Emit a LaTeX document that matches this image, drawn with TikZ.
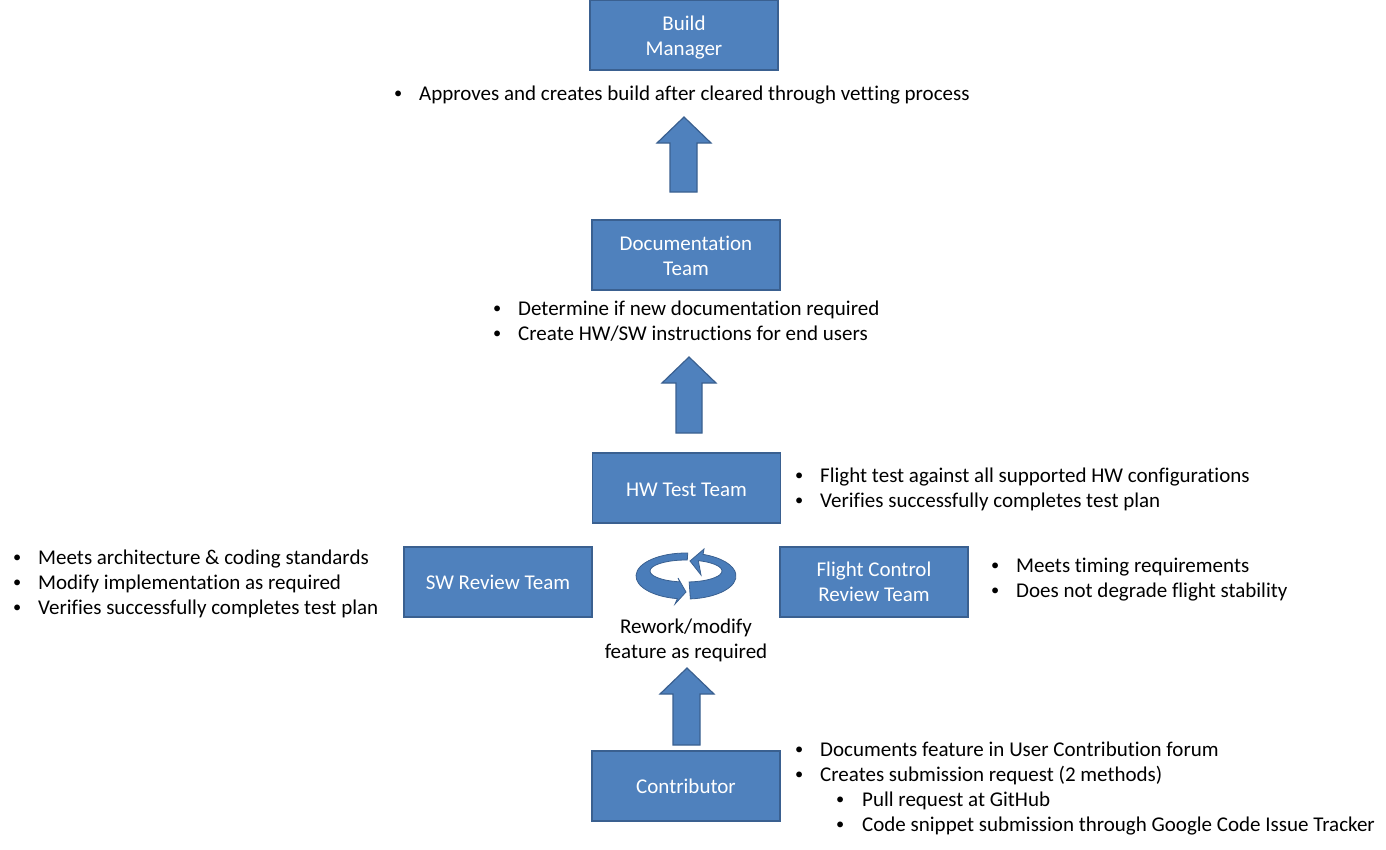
\documentclass[tikz,border=0pt]{standalone}
\usepackage{fontspec}
\setmainfont{Carlito}[Ligatures=NoCommon]
\definecolor{boxfill}{HTML}{4F81BD}
\definecolor{boxline}{HTML}{3A6090}
\definecolor{ringfill}{HTML}{4A7DBA}
\begin{document}
\begin{tikzpicture}[x=1pt,y=-1pt,
  team/.style={draw=boxline,line width=1.2pt,fill=boxfill,text=white,
    minimum width=188pt,minimum height=70pt,align=center,inner sep=0pt,
    font=\fontsize{21}{25}\selectfont},
  note/.style={anchor=base west,inner sep=0pt,font=\fontsize{21}{25}\selectfont},
  blockarrow/.style={draw=boxline,line width=1.2pt,fill=boxfill},
  ring/.style={draw=boxline,line width=0.8pt,fill=ringfill}]
\useasboundingbox (0,0) rectangle (1386,849);
\newcommand{\dotmark}{\raisebox{1.6pt}{\scalebox{0.78}{\textbullet}}}
\newcommand{\bl}{\makebox[26pt][l]{\hspace*{1pt}\dotmark}}
\newcommand{\sbl}{\hspace*{41pt}\makebox[27pt][l]{\hspace*{1pt}\dotmark}}

% team boxes
\node[team] (bm) at (684,35) {\rule{0pt}{19pt}Build\\Manager};
\node[team] (doc) at (686,255) {\rule{0pt}{16pt}Documentation\\Team};
\node[team] (hw) at (686.5,488) {\rule{0pt}{17.5pt}HW Test Team};
\node[team] (sw) at (498,582) {SW Review Team};
\node[team] (fc) at (874,582) {Flight Control\\Review Team};
\node[team] (con) at (686,786) {Contributor};

% notes beside the boxes
\node[note] (bmnote) at (393,100) {\bl Approves and creates build after cleared through vetting process};
\node[note] (docnote) at (492,315) {\begin{tabular}[t]{@{}l@{}}
\bl Determine if new documentation required\\
\bl Create HW/SW instructions for end users\end{tabular}};
\node[note] (hwnote) at (794,482) {\begin{tabular}[t]{@{}l@{}}
\bl Flight test against all supported HW configurations\\
\bl Verifies successfully completes test plan\end{tabular}};
\node[note] (swnote) at (12,564) {\begin{tabular}[t]{@{}l@{}}
\bl Meets architecture \& coding standards\\
\bl Modify implementation as required\\
\bl Verifies successfully completes test plan\end{tabular}};
\node[note] (fcnote) at (990,572) {\begin{tabular}[t]{@{}l@{}}
\bl Meets timing requirements\\
\bl Does not degrade flight stability\end{tabular}};
\node[note,anchor=base] (rework) at (686,633) {\begin{tabular}[t]{@{}c@{}}
Rework/modify\\ feature as required\end{tabular}};
\node[note] (connote) at (794,756) {\begin{tabular}[t]{@{}l@{}}
\bl Documents feature in User Contribution forum\\
\bl Creates submission request (2 methods)\\
\sbl Pull request at GitHub\\
\sbl Code snippet submission through Google Code Issue Tracker\end{tabular}};

% upward block arrows
\draw[blockarrow] (670,192) -- (670,143) -- (657,143) -- (684,117) -- (711,143)
  -- (697,143) -- (697,192) -- cycle;
\draw[blockarrow] (676,433) -- (676,383) -- (662,383) -- (689,357) -- (716,383)
  -- (702,383) -- (702,433) -- cycle;
\draw[blockarrow] (673,745) -- (673,694) -- (660,694) -- (687,668) -- (714,694)
  -- (700,694) -- (700,745) -- cycle;

% rework cycle: two ribbon arrows running round an ellipse
% outer edge: centre (686,576), radii 50/23; inner edge: centre (686,571), radii 36/11
\begin{scope}[shift={(686,576)}]
  \draw[ring] (85:50 and 23) arc[start angle=85,end angle=-70,x radius=50,y radius=23]
    -- (18,-27) -- (4,-15) -- (15,-1)
    -- ([yshift=5pt]-70:36 and 11) arc[start angle=-70,end angle=85,x radius=36,y radius=11]
    -- cycle;
  \draw[ring] (272:50 and 23) arc[start angle=272,end angle=100,x radius=50,y radius=23]
    -- (-11,28) -- (0,16) -- (-8,2)
    -- ([yshift=5pt]100:36 and 11) arc[start angle=100,end angle=272,x radius=36,y radius=11]
    -- cycle;
\end{scope}
\end{tikzpicture}
\end{document}
